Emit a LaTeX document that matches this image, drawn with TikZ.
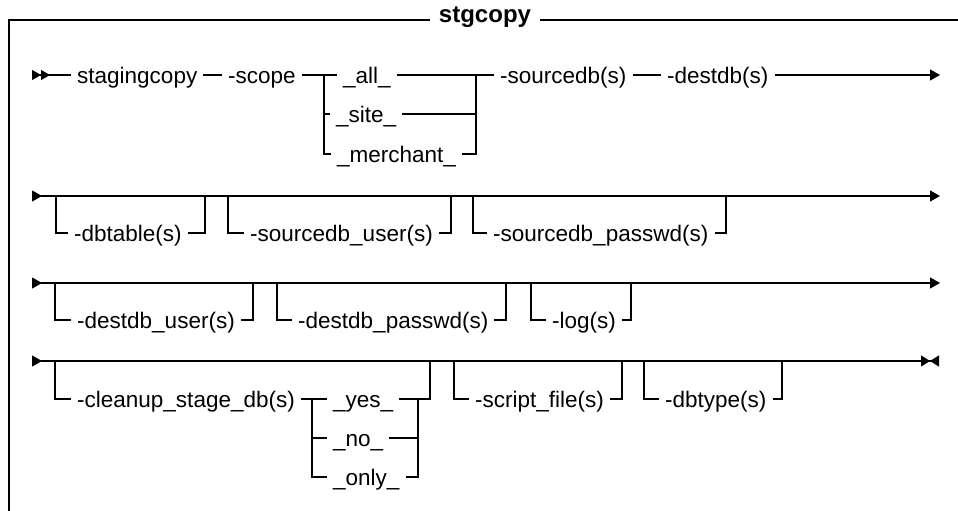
\documentclass[tikz,border=0pt]{standalone}
\usepackage{fontspec}
\setmainfont{Liberation Sans}
\usetikzlibrary{arrows.meta}
\tikzset{
  rail/.style={line width=1.1pt},
  frameline/.style={line width=2pt},
  kw/.style={font=\fontsize{22.5}{27}\selectfont, inner xsep=6pt, inner ysep=0pt,
    text height=20pt, text depth=3pt, anchor=west},
  ttl/.style={font=\fontsize{24}{28}\selectfont\bfseries, inner xsep=9pt, inner ysep=0pt, anchor=base},
  begin/.style={arrows={{Triangle[reversed,length=9pt,width=10pt]Triangle[reversed,length=9pt,width=10pt]}-}},
  goon/.style={arrows={-{Triangle[length=10pt,width=11pt]}}},
  thru/.style={arrows={{Triangle[reversed,length=10pt,width=11pt]}-{Triangle[length=10pt,width=11pt]}}},
  finish/.style={arrows={{Triangle[reversed,length=10pt,width=11pt]}-{Triangle[length=9pt,width=11pt]Triangle[reversed,length=9pt,width=11pt]}}}
}
\begin{document}
\begin{tikzpicture}[x=1pt,y=-1pt]
\useasboundingbox (0,0) rectangle (958,511);
% frame and title
\coordinate (fr) at (9,20);
\node[ttl] (ttl) at (485,22.5) {stgcopy};
\draw[frameline] (9,512) -- (fr) -- (ttl.west |- fr);
\draw[frameline] (ttl.east |- fr) -- (958,20);
%
% first line
\coordinate (r1s) at (32,75);
\node[kw] (stg) at (71,75) {stagingcopy};
\node[kw] (scope) at (222,75) {-scope};
\coordinate (sc) at (324,75);
\node[kw] (all) at (337,75) {\_all\_};
\node[kw] (site) at (330,114) {\_site\_};
\node[kw] (merch) at (331,154) {\_merchant\_};
\coordinate (sj) at (476,75);
\node[kw] (srcdb) at (494,75) {-sourcedb(s)};
\node[kw] (dstdb) at (661,75) {-destdb(s)};
\coordinate (r1e) at (940,75);
\draw[rail, begin] (r1s) -- (stg.west);
\draw[rail] (stg) -- (scope);
\draw[rail] (scope) -- (all);
\draw[rail] (sc) |- (site.west);
\draw[rail] (sc) |- (merch.west);
\draw[rail] (all) -- (sj);
\draw[rail] (site.east) -| (sj);
\draw[rail] (merch.east) -| (sj);
\draw[rail] (sj) -- (srcdb);
\draw[rail] (srcdb) -- (dstdb);
\draw[rail, goon] (dstdb) -- (r1e);
%
% second line
\coordinate (r2s) at (32,196);
\coordinate (r2e) at (940,196);
\draw[rail, thru] (r2s) -- (r2e);
\coordinate (a1) at (56,196);
\node[kw] (dbt) at (68,233) {-dbtable(s)};
\coordinate (a2) at (205,196);
\coordinate (b1) at (228,196);
\node[kw] (susr) at (244,233) {-sourcedb\_user(s)};
\coordinate (b2) at (451,196);
\coordinate (c1) at (473,196);
\node[kw] (spwd) at (487,233) {-sourcedb\_passwd(s)};
\coordinate (c2) at (726,196);
\draw[rail] (a1) |- (dbt.west);
\draw[rail] (dbt.east) -| (a2);
\draw[rail] (b1) |- (susr.west);
\draw[rail] (susr.east) -| (b2);
\draw[rail] (c1) |- (spwd.west);
\draw[rail] (spwd.east) -| (c2);
%
% third line
\coordinate (r3s) at (32,283);
\coordinate (r3e) at (940,283);
\draw[rail, thru] (r3s) -- (r3e);
\coordinate (d1) at (55,283);
\node[kw] (dusr) at (71,320) {-destdb\_user(s)};
\coordinate (d2) at (253,283);
\coordinate (e1) at (277,283);
\node[kw] (dpwd) at (292,320) {-destdb\_passwd(s)};
\coordinate (e2) at (506,283);
\coordinate (f1) at (531,283);
\node[kw] (log) at (546,320) {-log(s)};
\coordinate (f2) at (631,283);
\draw[rail] (d1) |- (dusr.west);
\draw[rail] (dusr.east) -| (d2);
\draw[rail] (e1) |- (dpwd.west);
\draw[rail] (dpwd.east) -| (e2);
\draw[rail] (f1) |- (log.west);
\draw[rail] (log.east) -| (f2);
%
% fourth line
\coordinate (r4s) at (32,361);
\coordinate (r4e) at (939,361);
\draw[rail, finish] (r4s) -- (r4e);
\coordinate (g1) at (55,361);
\node[kw] (cln) at (71,399) {-cleanup\_stage\_db(s)};
\coordinate (ss) at (312,399);
\node[kw] (yes) at (327,399) {\_yes\_};
\node[kw] (no) at (327,438) {\_no\_};
\node[kw] (only) at (327,477) {\_only\_};
\coordinate (sj2) at (418,399);
\coordinate (g2) at (430,361);
\draw[rail] (g1) |- (cln.west);
\draw[rail] (cln) -- (yes);
\draw[rail] (ss) |- (no.west);
\draw[rail] (ss) |- (only.west);
\draw[rail] (yes.east) -- (sj2) -| (g2);
\draw[rail] (no.east) -| (sj2);
\draw[rail] (only.east) -| (sj2);
\coordinate (h1) at (454,361);
\node[kw] (scr) at (469,399) {-script\_file(s)};
\coordinate (h2) at (622,361);
\coordinate (k1) at (644,361);
\node[kw] (dbty) at (659,399) {-dbtype(s)};
\coordinate (k2) at (782,361);
\draw[rail] (h1) |- (scr.west);
\draw[rail] (scr.east) -| (h2);
\draw[rail] (k1) |- (dbty.west);
\draw[rail] (dbty.east) -| (k2);
\end{tikzpicture}
\end{document}
